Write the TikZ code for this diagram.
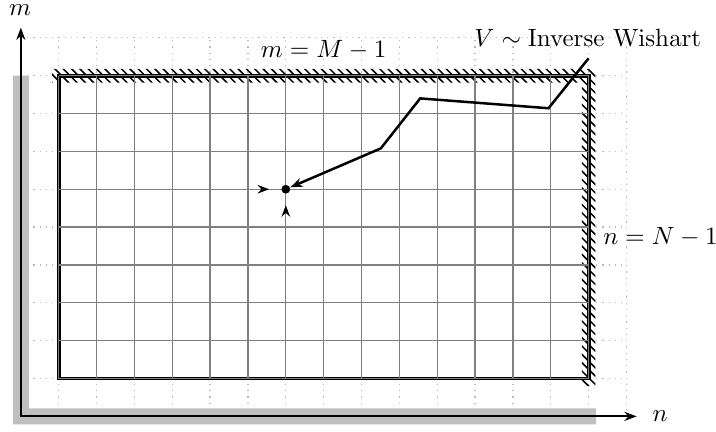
\documentclass[tikz,border=0pt]{standalone}
\usetikzlibrary{arrows.meta}
\begin{document}
\begin{tikzpicture}[x=0.532cm,y=0.532cm,
  dotgrid/.style={gray!55, dotted, line width=0.5pt},
  finegrid/.style={gray, line width=0.5pt},
  border/.style={line width=1.5pt},
  hatch/.style={line width=0.6pt},
  axis/.style={line width=0.8pt, {Stealth[length=4.9pt,width=3.6pt]}-{Stealth[length=4.9pt,width=3.6pt]}},
  walk/.style={line width=1pt, -{Stealth[length=4.9pt,width=3.6pt]}},
  tip/.style={line width=0.8pt, -{Stealth[length=4.6pt,width=3.4pt]}},
  lbl/.style={anchor=base, inner sep=0pt}]
\useasboundingbox (-1.551,-1.413) rectangle (17.365,10.0);
% gray L band
\fill[black!25] (-1.21,8) -- (-1.21,-1.21) -- (14.2,-1.21) -- (14.2,-0.79) -- (-0.79,-0.79) -- (-0.79,8) -- cycle;
% dotted grid
\draw[dotgrid, step={(1,1)}] (-1,-1) grid (15,9);
% hatching along top and right edges
\begin{scope}
  \clip (-0.18,8.18) -- (14.18,8.18) -- (14.18,-0.2) -- (13.82,-0.2) -- (13.82,7.82) -- (-0.18,7.82) -- cycle;
  \foreach \c in {0,...,115} \draw[hatch] ({\c*0.22-9.5},9) -- ++(10,-10);
\end{scope}
% border and grid
\draw[border] (0,0) rectangle (14,8);
\draw[finegrid, step={(1,1)}] (0,0) grid (14,8);
% axes
\coordinate (O) at (-1,-1);
\coordinate (ytip) at (-1,9.27);
\coordinate (xtip) at (15.27,-1);
\draw[axis] (ytip) -- (O) -- (xtip);
\node[lbl] (mlab) at (-1.02,9.6) {$m$};
\node[lbl] (nlab) at (15.89,-1.14) {$n$};
% labels
\node[lbl] (top) at (7,8.49) {$m = M - 1$};
\node[lbl] (right) at (15.9,3.53) {$n = N - 1$};
\node[lbl] (vlab) at (13.98,8.77) {$V \sim \mathrm{Inverse}\ \mathrm{Wishart}$};
% point and walk
\node[circle, fill=black, inner sep=0pt, minimum size=3.5pt] (p) at (6,5) {};
\coordinate (w0) at (14,8.46);
\coordinate (w1) at (12.94,7.14);
\coordinate (w2) at (9.55,7.40);
\coordinate (w3) at (8.51,6.08);
\draw[walk] (w0) -- (w1) -- (w2) -- (w3) -- (p);
% incoming arrows
\coordinate (la) at (5.45,5);
\coordinate (lb) at (5.56,5);
\coordinate (da) at (6,4.47);
\coordinate (db) at (6,4.58);
\draw[tip] (la) -- (lb);
\draw[tip] (da) -- (db);
\end{tikzpicture}
\end{document}
